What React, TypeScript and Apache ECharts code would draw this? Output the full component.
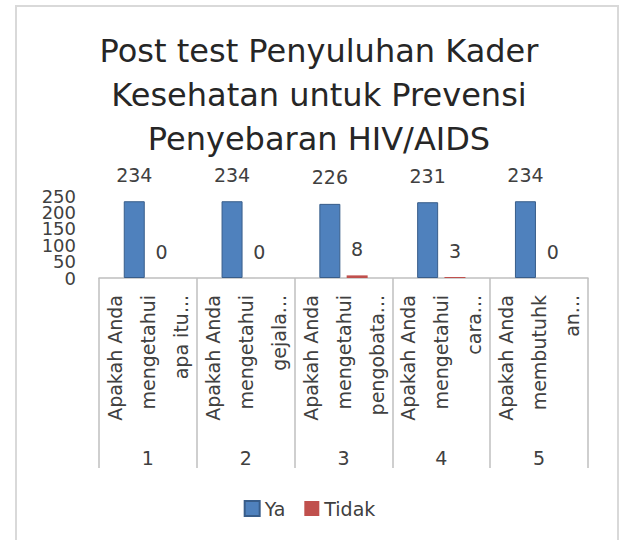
import React, { useEffect, useRef } from "react";
import * as echarts from "echarts";

const titleLines = ["Post test Penyuluhan Kader", "Kesehatan untuk Prevensi", "Penyebaran HIV/AIDS"];
const questionLabels = [
  "Apakah Anda\nmengetahui\napa itu...",
  "Apakah Anda\nmengetahui\ngejala...",
  "Apakah Anda\nmengetahui\npengobata...",
  "Apakah Anda\nmengetahui\ncara...",
  "Apakah Anda\nmembutuhk\nan...",
];
const questionNumbers = ["1", "2", "3", "4", "5"];
const yaValues = [234, 234, 226, 231, 234];
const tidakValues = [0, 0, 8, 3, 0];
const seriesNames = ["Ya", "Tidak"];
const yMin = 0;
const yMax = 250;
const yStep = 50;

const FONT = "DejaVu Sans";
const TEXT = "#404040";
const GRIDLINE = "#bfbfbf";

function yAxisPart(parity: number) {
  return {
    type: "value",
    position: "left",
    min: yMin,
    max: yMax,
    interval: yStep,
    axisLine: { show: false },
    axisTick: { show: false },
    splitLine: { show: false },
    axisLabel: {
      fontFamily: FONT,
      fontSize: 18,
      lineHeight: 16,
      color: TEXT,
      margin: 23,
      showMinLabel: true,
      showMaxLabel: true,
      hideOverlap: false,
      formatter: (v: number) => (Math.round(v / yStep) % 2 === parity ? String(v) : ""),
    },
  };
}

export default function App() {
  const ref = useRef<HTMLDivElement>(null);
  useEffect(() => {
    if (!ref.current) return;
    const chart = echarts.init(ref.current, undefined, { renderer: "svg" });
    chart.setOption({
      animation: false,
      backgroundColor: "#ffffff",
      textStyle: { fontFamily: FONT },
      title: {
        text: titleLines.join("\n"),
        left: 314,
        top: 24,
        textAlign: "center",
        textStyle: { fontFamily: FONT, fontSize: 32, fontWeight: "normal", color: "#262626", lineHeight: 44 },
      },
      legend: {
        data: seriesNames,
        left: "center",
        top: 494,
        icon: "rect",
        itemWidth: 15,
        itemHeight: 15,
        itemGap: 19,
        textStyle: { fontFamily: FONT, fontSize: 19, color: TEXT },
      },
      grid: { left: 99, right: 31, top: 196, bottom: 262, containLabel: false },
      xAxis: [
        {
          type: "category",
          data: questionLabels,
          position: "bottom",
          axisLine: { show: true, lineStyle: { color: GRIDLINE, width: 1.5 } },
          axisTick: { show: true, length: 190, interval: 0, lineStyle: { color: GRIDLINE, width: 1.5 } },
          axisLabel: {
            interval: 0,
            rotate: 90,
            margin: 17,
            fontFamily: FONT,
            fontSize: 19,
            lineHeight: 33,
            color: TEXT,
          },
        },
        {
          type: "category",
          data: questionNumbers,
          position: "bottom",
          offset: 162,
          axisLine: { show: false },
          axisTick: { show: false },
          axisLabel: { interval: 0, fontFamily: FONT, fontSize: 19, color: TEXT, margin: 8 },
        },
      ],
      yAxis: [yAxisPart(0), yAxisPart(1)],
      series: [
        {
          name: seriesNames[0],
          type: "bar",
          xAxisIndex: 0,
          yAxisIndex: 0,
          data: yaValues,
          barWidth: 21,
          barGap: "30%",
          itemStyle: { color: "#4F81BD", borderColor: "#385D8A", borderWidth: 1 },
          label: { show: true, position: "top", distance: 17, fontFamily: FONT, fontSize: 19, color: TEXT },
        },
        {
          name: seriesNames[1],
          type: "bar",
          xAxisIndex: 0,
          yAxisIndex: 0,
          data: tidakValues,
          barWidth: 21,
          barGap: "30%",
          itemStyle: { color: "#C0504D", borderWidth: 0 },
          label: { show: true, position: "top", distance: 17, fontFamily: FONT, fontSize: 19, color: TEXT },
        },
      ],
      graphic: [
        {
          type: "polyline",
          silent: true,
          shape: { points: [[16, 540], [16, 6], [618, 6], [618, 540]] },
          style: { stroke: "#d9d9d9", lineWidth: 2, fill: "none" },
        },
      ],
    });
    return () => chart.dispose();
  }, []);
  return <div ref={ref} style={{ position: "fixed", left: 0, top: 0, width: 619, height: 540 }} />;
}
